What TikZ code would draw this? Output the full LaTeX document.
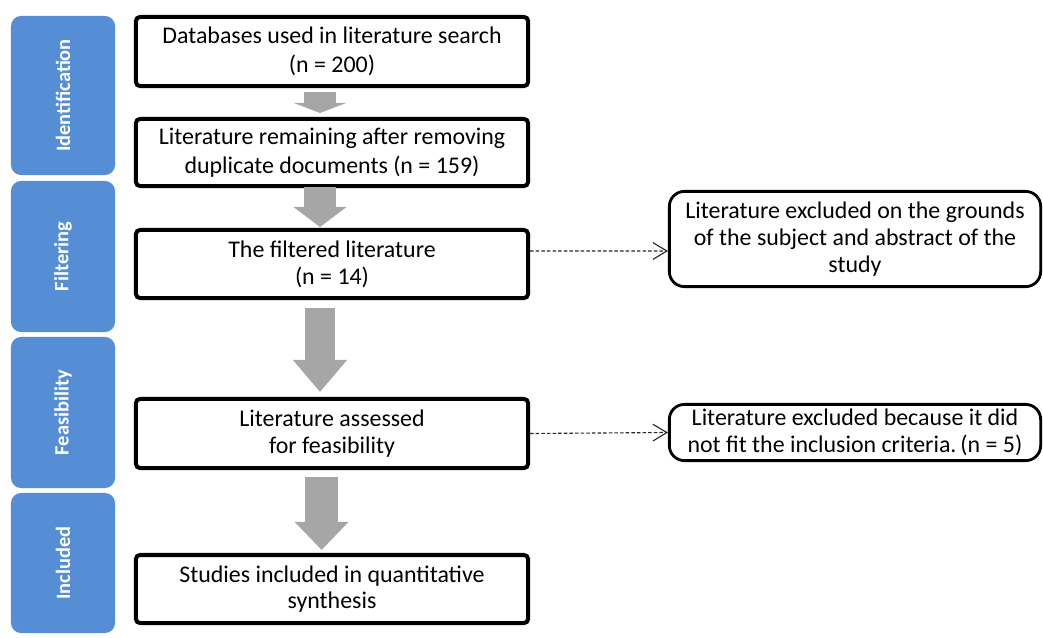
\documentclass[tikz,border=0pt]{standalone}
\usepackage{fontspec}
\setmainfont{Carlito}
\usetikzlibrary{arrows.meta}

\definecolor{stageblue}{HTML}{558ED5}
\definecolor{flowgray}{HTML}{A6A6A6}

\tikzset{
	stage/.style={rotate=90, fill=stageblue, text=white, rounded corners=0.25cm,
		minimum height=2.6cm, font=\fontsize{14.5}{16}\selectfont\bfseries},
	mainbox/.style={draw, line width=0.1cm, rounded corners=0.1cm,
		minimum width=9.8cm, align=center, font=\fontsize{17}{19}\selectfont},
	sidenote/.style={draw, line width=0.07cm, rounded corners=0.375cm,
		minimum width=9.28cm, align=center, font=\fontsize{17}{19}\selectfont},
	flow/.style={color=flowgray, line width=0.8cm, -{Triangle[length=#1, width=1.3cm]}},
	excl/.style={draw=black!85, line width=0.8pt, dash pattern=on 2.5pt off 1.5pt,
		-{Straight Barb[length=0.35cm, width=0.42cm]}}
}

\begin{document}
\begin{tikzpicture}[x=0.025cm, y=-0.025cm]
			\useasboundingbox (0,0) rectangle (1043,637);
			% stages on the left
			\node[stage, minimum width=3.975cm] (ident) at (63,95.5) {Identification};
			\node[stage, minimum width=3.775cm] (filt) at (63,256.5) {Filtering};
			\node[stage, minimum width=3.775cm] (feas) at (63,412.5) {Feasibility};
			\node[stage, minimum width=3.5cm] (incl) at (63,563) {Included};
			% main column
			\node[mainbox, minimum height=1.725cm, font=\fontsize{17}{21}\selectfont] at (332,51.5) (db) {Databases used in literature search\\(n = 200)};
			\node[mainbox, minimum height=1.675cm, font=\fontsize{17}{21}\selectfont] at (332,152.5) (dedup) {Literature remaining after removing\\duplicate documents (n = 159)};
			\node[mainbox, minimum height=1.7cm] at (332,264) (filtered) {The filtered literature\\(n = 14)};
			\node[mainbox, minimum height=1.725cm] at (332,433.5) (assess) {Literature assessed\\for feasibility};
			\node[mainbox, minimum height=1.7cm] at (332,589) (studies) {Studies included in quantitative\\synthesis};
			% exclusions
			\node[sidenote, minimum height=2.38cm] at (855,239) (exclA) {Literature excluded on the grounds\\of the subject and abstract of the\\study};
			\node[sidenote, minimum height=1.405cm] at (855,432.5) (exclB) {Literature excluded because it did\\not fit the inclusion criteria.\,(n = 5)};
			% gray arrows
			\draw[flow=0.25cm] ([xshift=-0.3cm,yshift=-0.1cm]db.south) -- ([xshift=-0.3cm,yshift=0.1cm]dedup.north);
			\draw[flow=0.5cm] ([xshift=-0.3cm,yshift=0.025cm]dedup.south) -- ([xshift=-0.3cm,yshift=0.025cm]filtered.north);
			\draw[flow=0.8cm, line width=0.75cm] ([xshift=-0.3cm,yshift=-0.2cm]filtered.south) -- ([xshift=-0.3cm,yshift=0.125cm]assess.north);
			\draw[flow=0.7cm, line width=0.825cm] ([xshift=-0.26cm,yshift=-0.175cm]assess.south) -- ([xshift=-0.26cm,yshift=0.075cm]studies.north);
			% dashed arrows
			\draw[excl] ([yshift=0.325cm]filtered.east) -- ([yshift=-0.3cm]exclA.west);
			\draw[excl] (assess.east) -- (exclB.west);
		\end{tikzpicture}
\end{document}
